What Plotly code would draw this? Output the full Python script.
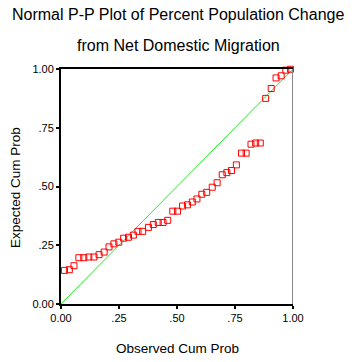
import plotly.graph_objects as go

# Observed cumulative probability (ranked) for each state
observed_cum_prob = [
    0.015, 0.036, 0.056, 0.077, 0.098, 0.120, 0.142, 0.164, 0.186, 0.207,
    0.228, 0.249, 0.270, 0.291, 0.312, 0.332, 0.352, 0.377, 0.398, 0.419,
    0.440, 0.460, 0.482, 0.502, 0.524, 0.545, 0.566, 0.586, 0.607, 0.628,
    0.652, 0.673, 0.695, 0.715, 0.735, 0.756, 0.778, 0.798, 0.819, 0.839,
    0.859, 0.882, 0.906, 0.927, 0.949, 0.969, 0.989,
]

# Expected cumulative probability under a normal distribution
expected_cum_prob = [
    0.143, 0.146, 0.163, 0.197, 0.197, 0.200, 0.200, 0.210, 0.221, 0.243,
    0.256, 0.263, 0.280, 0.284, 0.293, 0.309, 0.309, 0.326, 0.338, 0.347,
    0.347, 0.356, 0.395, 0.395, 0.417, 0.422, 0.434, 0.447, 0.467, 0.475,
    0.497, 0.516, 0.550, 0.559, 0.568, 0.592, 0.642, 0.642, 0.680, 0.685,
    0.685, 0.875, 0.917, 0.962, 0.971, 0.995, 0.999,
]

tick_vals = [0, 0.25, 0.5, 0.75, 1.0]
tick_text = ["0.00", ".25", ".50", ".75", "1.00"]

title_lines = ["Normal P-P Plot of Percent Population Change",
               "from Net Domestic Migration"]
x_title = "Observed Cum Prob"
y_title = "Expected Cum Prob"

FONT = "Liberation Sans, Arial, sans-serif"

fig = go.Figure()

# Reference diagonal
fig.add_trace(go.Scatter(
    x=[0, 1], y=[0, 1], mode="lines",
    line=dict(color="#22ee22", width=1),
    hoverinfo="skip", showlegend=False,
))

fig.add_trace(go.Scatter(
    x=observed_cum_prob, y=expected_cum_prob, mode="markers",
    marker=dict(symbol="square-open", size=6, color="#ff0000",
                line=dict(width=1, color="#ff0000")),
    cliponaxis=False, showlegend=False,
))

axis_common = dict(
    range=[0, 1], tickvals=tick_vals, ticktext=tick_text,
    showgrid=False, zeroline=False,
    showline=True, linecolor="black", linewidth=2,
    ticks="outside", ticklen=3, tickwidth=2, tickcolor="black",
    tickfont=dict(family=FONT, size=11, color="black"),
)

fig.update_xaxes(**axis_common, mirror=True)
fig.update_yaxes(**axis_common)

# Right-hand frame edge
fig.add_shape(type="line", xref="x", yref="y", x0=1, x1=1, y0=0, y1=1,
              line=dict(color="#888888", width=2), layer="above")

annotations = [
    dict(text=title_lines[0], x=0.5, y=362 - 15, xref="paper", yref="paper"),
    dict(text=title_lines[1], x=0.5, y=362 - 45, xref="paper", yref="paper"),
]

fig.update_layout(
    width=360, height=362,
    margin=dict(l=61, r=67, t=69, b=58),
    paper_bgcolor="white", plot_bgcolor="white",
    showlegend=False,
)

# Titles placed in pixel terms relative to the figure
plot_w = 360 - 61 - 67
plot_h = 362 - 69 - 58


def px_to_paper_x(px):
    return (px - 61) / plot_w


def px_to_paper_y(py):
    return (362 - 58 - py) / plot_h


fig.add_annotation(text=title_lines[0], x=px_to_paper_x(178), y=px_to_paper_y(15),
                   xref="paper", yref="paper", showarrow=False,
                   xanchor="center", yanchor="middle",
                   font=dict(family=FONT, size=16, color="black"))
fig.add_annotation(text=title_lines[1], x=px_to_paper_x(178), y=px_to_paper_y(45),
                   xref="paper", yref="paper", showarrow=False,
                   xanchor="center", yanchor="middle",
                   font=dict(family=FONT, size=16, color="black"))
fig.add_annotation(text=x_title, x=px_to_paper_x(177), y=px_to_paper_y(348),
                   xref="paper", yref="paper", showarrow=False,
                   xanchor="center", yanchor="middle",
                   font=dict(family=FONT, size=13.5, color="black"))
fig.add_annotation(text=y_title, x=px_to_paper_x(15), y=px_to_paper_y(188),
                   xref="paper", yref="paper", showarrow=False, textangle=-90,
                   xanchor="center", yanchor="middle",
                   font=dict(family=FONT, size=13.5, color="black"))

fig.write_html("out.html")
